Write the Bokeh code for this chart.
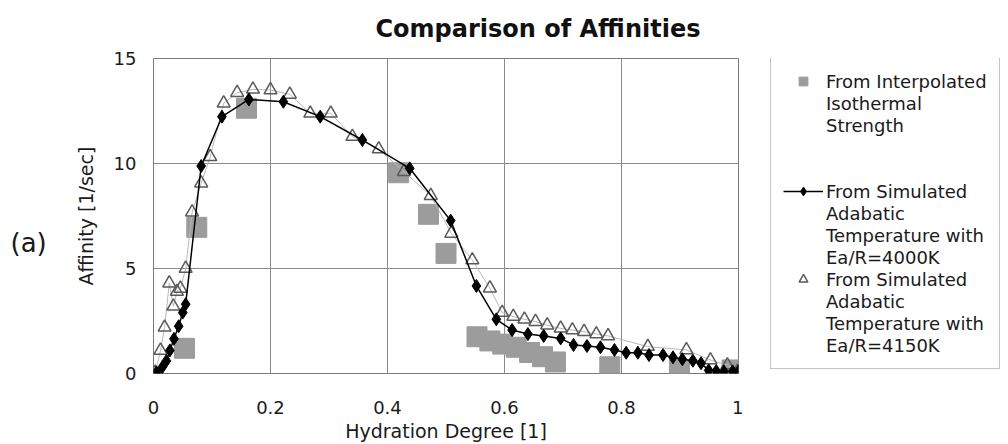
from bokeh.plotting import figure
from bokeh.layouts import row, column
from bokeh.models import (Legend, LegendItem, Label, FixedTicker,
                          NumeralTickFormatter, Range1d)
from bokeh.embed import file_html
from bokeh.resources import INLINE

FONT = "DejaVu Sans"

# ---------------- data ----------------
x_ticks = [0, 0.2, 0.4, 0.6, 0.8, 1.0]
y_ticks = [0, 5, 10, 15]

# From Interpolated Isothermal Strength (grey squares)
iso_x = [0.053, 0.074, 0.159, 0.419, 0.470, 0.500, 0.553, 0.575, 0.597,
         0.620, 0.643, 0.665, 0.687, 0.780, 0.899, 0.989]
iso_y = [1.20, 6.96, 12.63, 9.56, 7.58, 5.72, 1.75, 1.55, 1.40,
         1.25, 1.00, 0.80, 0.55, 0.32, 0.17, 0.17]

# From Simulated Adabatic Temperature, Ea/R=4000K (black diamonds + line)
s4000_x = [0.005, 0.015, 0.022, 0.028, 0.035, 0.043, 0.050, 0.055, 0.0815,
           0.117, 0.163, 0.222, 0.285, 0.357, 0.438, 0.508, 0.552, 0.586,
           0.613, 0.640, 0.667, 0.696, 0.718, 0.741, 0.764, 0.788, 0.808,
           0.828, 0.847, 0.871, 0.888, 0.904, 0.922, 0.936, 0.949, 0.962,
           0.975, 0.990, 1.000]
s4000_y = [0.05, 0.30, 0.60, 1.10, 1.65, 2.25, 2.90, 3.30, 9.88,
           12.23, 13.05, 12.94, 12.23, 11.12, 9.77, 7.28, 4.17, 2.58,
           2.07, 1.88, 1.79, 1.67, 1.36, 1.31, 1.25, 1.12, 0.99,
           0.99, 0.88, 0.88, 0.77, 0.68, 0.61, 0.49, 0.15, 0.12,
           0.10, 0.10, 0.10]

# From Simulated Adabatic Temperature, Ea/R=4150K (open triangles)
s4150_x = [0.003, 0.012, 0.019, 0.027, 0.034, 0.040, 0.046, 0.055, 0.066,
           0.0815, 0.097, 0.120, 0.143, 0.170, 0.200, 0.233, 0.268, 0.303,
           0.340, 0.385, 0.428, 0.474, 0.509, 0.545, 0.575, 0.596, 0.615,
           0.634, 0.653, 0.673, 0.696, 0.716, 0.736, 0.757, 0.777, 0.845,
           0.911, 0.952, 0.981, 0.998]
s4150_y = [0.05, 1.10, 2.20, 4.30, 3.20, 3.90, 4.05, 5.00, 7.68,
           9.06, 10.32, 12.87, 13.37, 13.53, 13.50, 13.29, 12.39, 12.39,
           11.28, 10.69, 9.61, 8.47, 6.67, 5.40, 4.06, 2.90, 2.71,
           2.58, 2.47, 2.30, 2.15, 2.07, 1.99, 1.88, 1.79, 1.28,
           1.12, 0.64, 0.40, 0.09]

chart_title = "Comparison of Affinities"
legend_1 = ["From Interpolated", "Isothermal", "Strength"]
legend_2 = ["From Simulated", "Adabatic", "Temperature with", "Ea/R=4000K"]
legend_3 = ["From Simulated", "Adabatic", "Temperature with", "Ea/R=4150K"]
panel_tag = "(a)"

# ---------------- styles ----------------
SQ = dict(marker="square", size=20, fill_color="#9c9c9c", line_color="#9c9c9c")
TRI = dict(marker="triangle", size=13, fill_alpha=0, line_color="#5a5a5a",
           line_width=1.5)
DIA = dict(marker="diamond", size=13, fill_color="black", line_color="black")
DIA_LINE = dict(line_color="black", line_width=1.5)
TRI_LINE = dict(line_color="#b8b8b8", line_width=1)

TITLE_H = 44
ROW_H = 444 - TITLE_H
TAG_W = 68
LEG_W = 265
MAIN_W = 1008 - TAG_W - LEG_W


def blank_fig(w, h, yr=(0, 1)):
    f = figure(width=w, height=h, x_range=Range1d(0, 1), y_range=Range1d(*yr),
               output_backend="svg", toolbar_location=None,
               x_axis_type=None, y_axis_type=None,
               min_border=0, min_border_left=0, min_border_right=0,
               min_border_top=0, min_border_bottom=0)
    f.outline_line_color = None
    f.grid.visible = False
    f.background_fill_color = "white"
    f.border_fill_color = "white"
    return f


# ---------------- title strip ----------------
tfig = blank_fig(1008, TITLE_H)
tfig.add_layout(Label(x=375, y=TITLE_H - 28, x_units="screen", y_units="screen",
                      text=chart_title, text_font=FONT, text_font_size="24px",
                      text_font_style="bold", text_color="#111111",
                      text_baseline="alphabetic", text_align="left"))

# ---------------- main figure ----------------
p = figure(width=MAIN_W, height=ROW_H, x_range=Range1d(0, 1), y_range=Range1d(0, 15),
           output_backend="svg", toolbar_location=None,
           min_border_left=85, min_border_right=5,
           min_border_top=58 - TITLE_H, min_border_bottom=71)

p.background_fill_color = "white"
p.border_fill_color = "white"
p.outline_line_color = "#7a7a7a"
p.outline_line_width = 1

for ax in (p.xaxis[0], p.yaxis[0]):
    ax.axis_line_color = None
    ax.major_tick_out = 0
    ax.major_tick_in = 0
    ax.minor_tick_out = 0
    ax.minor_tick_in = 0
    ax.major_label_text_font = FONT
    ax.major_label_text_font_size = "18px"
    ax.major_label_text_color = "#1a1a1a"
    ax.axis_label_text_font = FONT
    ax.axis_label_text_font_size = "19px"
    ax.axis_label_text_font_style = "normal"
    ax.axis_label_text_color = "#1a1a1a"

p.xaxis.ticker = FixedTicker(ticks=x_ticks)
p.xaxis.formatter = NumeralTickFormatter(format="0.[0]")
p.xaxis.axis_label = "Hydration Degree [1]"
p.xaxis.major_label_standoff = 27
p.xaxis.axis_label_standoff = 3

p.yaxis.ticker = FixedTicker(ticks=y_ticks)
p.yaxis.axis_label = "Affinity [1/sec]"
p.yaxis.major_label_standoff = 17
p.yaxis.axis_label_standoff = 14

p.xgrid.ticker = FixedTicker(ticks=x_ticks)
p.ygrid.ticker = FixedTicker(ticks=y_ticks)
for g in (p.xgrid[0], p.ygrid[0]):
    g.grid_line_color = "#8a8a8a"
    g.grid_line_width = 1

p.scatter(iso_x, iso_y, **SQ)
p.line(s4150_x, s4150_y, **TRI_LINE)
p.scatter(s4150_x, s4150_y, **TRI)
p.line(s4000_x, s4000_y, **DIA_LINE)
p.scatter(s4000_x, s4000_y, **DIA)

# ---------------- panel tag "(a)" ----------------
tf = blank_fig(TAG_W, ROW_H)
# its frame is aligned with the main frame (bottom at page y = 373)
tf.add_layout(Label(x=10, y=131, x_units="screen", y_units="screen",
                    text=panel_tag, text_font=FONT, text_font_size="26px",
                    text_color="#1a1a1a", text_baseline="middle",
                    text_align="left"))

# ---------------- legend figure ----------------
# series are re-drawn here only to give the legend its glyphs; the y range
# is set so that none of the points fall inside this (blank) figure
lf = blank_fig(LEG_W, ROW_H, yr=(100, 101))
l_sq = lf.scatter(iso_x, iso_y, **SQ)
l_dl = lf.line(s4000_x, s4000_y, **DIA_LINE)
l_dia = lf.scatter(s4000_x, s4000_y, **DIA)
l_tri = lf.scatter(s4150_x, s4150_y, **TRI)
l_none = lf.scatter(iso_x, iso_y, fill_alpha=0, line_alpha=0)

items = [LegendItem(label=legend_1[0], renderers=[l_sq])]
items += [LegendItem(label=t, renderers=[l_none]) for t in legend_1[1:]]
items += [LegendItem(label=" ", renderers=[l_none]),
          LegendItem(label="  ", renderers=[l_none])]
items += [LegendItem(label=legend_2[0], renderers=[l_dl, l_dia])]
items += [LegendItem(label=t, renderers=[l_none]) for t in legend_2[1:]]
items += [LegendItem(label=legend_3[0], renderers=[l_tri])]
items += [LegendItem(label=t, renderers=[l_none]) for t in legend_3[1:]]

legend = Legend(items=items, location=(27, 4))
legend.label_text_font = FONT
legend.label_text_font_size = "18px"
legend.label_text_color = "#1a1a1a"
legend.label_height = 22
legend.glyph_height = 22
legend.glyph_width = 40
legend.label_standoff = 3
legend.spacing = 0
legend.padding = 12
legend.margin = 0
legend.border_line_color = "#8a8a8a"
legend.border_line_width = 1
legend.background_fill_color = "white"
legend.background_fill_alpha = 1
lf.add_layout(legend)

layout = column(tfig, row(tf, p, lf, spacing=0), spacing=0)

open("out.html", "w").write(file_html(layout, INLINE))
